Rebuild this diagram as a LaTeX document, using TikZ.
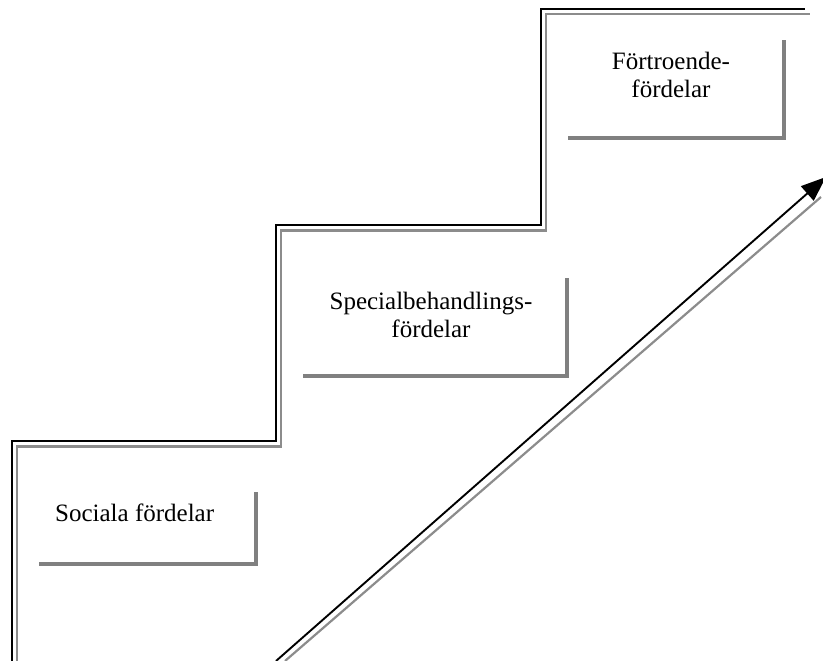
\documentclass[tikz,border=0pt]{standalone}
\usepackage{fontspec}
\setmainfont{Liberation Serif}
\usetikzlibrary{arrows.meta}
\definecolor{edgegray}{HTML}{808080}
\definecolor{stepgray}{HTML}{8C8C8C}
\tikzset{
  x=1pt, y=1pt,
  stairblack/.style={draw=black, line width=2pt},
  stairgray/.style={draw=stepgray, line width=2.2pt},
  benefitbox/.style={rectangle, inner sep=0pt, draw=none},
  boxedge/.style={draw=edgegray, line width=4pt, line cap=rect},
  label/.style={inner sep=0pt, font=\fontsize{25}{28.5}\selectfont, align=center},
}
\begin{document}
\begin{tikzpicture}
\useasboundingbox (0,0) rectangle (823,661);

% staircase: black outline with a gray companion line below it
\draw[stairgray] (16.8,0) -- (16.8,214.5) -- (280.8,214.5) -- (280.8,430.5)
  -- (545.8,430.5) -- (545.8,647) -- (810,647);
\draw[stairblack] (12.3,0) -- (12.3,219.5) -- (276.3,219.5) -- (276.3,435.5)
  -- (541.3,435.5) -- (541.3,652) -- (805,652);

% benefit boxes (shaded right and bottom edges)
\node[benefitbox, minimum width=214pt, minimum height=70pt] (box1) at (148.3,132) {};
\node[benefitbox, minimum width=262pt, minimum height=96pt] (box2) at (436,333) {};
\node[benefitbox, minimum width=213pt, minimum height=96pt] (box3) at (677,571) {};
\foreach \b in {box1,box2,box3}
  \draw[boxedge] (\b.north east) -- (\b.south east) -- (\b.south west);

\node[label, anchor=base west] (t1) at (55,139) {Sociala fördelar};
\node[label] (t2) at (431,346) {Specialbehandlings-\\fördelar};
\node[label] (t3) at (671,586) {Förtroende-\\fördelar};

% rising arrow with its gray companion line
\coordinate (a0) at (276,0);
\coordinate (a1) at (826,484);
\coordinate (g0) at (285,0);
\coordinate (g1) at (821,464);
\draw[draw=stepgray, line width=2.2pt] (g0) -- (g1);
\draw[line width=1.9pt, -{Triangle[length=25pt, width=19pt]}] (a0) -- (a1);
\end{tikzpicture}
\end{document}
